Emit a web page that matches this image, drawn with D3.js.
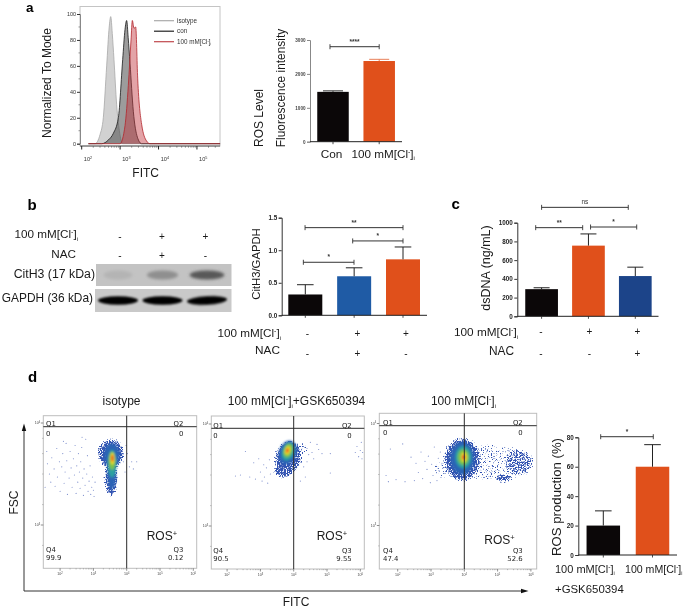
<!DOCTYPE html>
<html><head><meta charset="utf-8">
<script src="https://cdn.jsdelivr.net/npm/d3@7"></script>
<style>html,body{margin:0;background:#fff}svg{display:block;font-family:"Liberation Sans",Arial,sans-serif;filter:blur(.35px)}</style>
</head><body><svg id="c" width="685" height="608"></svg>
<script>
// ---------- data ----------
const histIsotype = [[150,0],[222,0],[300,7],[365,20],[447,60],[520,90],[570,98],[625,85],[692,65],[813,30],[955,10],[1167,0],[400000,0]];
const histCon = [[150,0],[331,0],[500,3],[667,8],[900,20],[1167,65],[1340,88],[1480,95],[1620,82],[1811,62],[2208,25],[2818,5],[3630,0],[400000,0]];
const histCl = [[150,0],[993,0],[1343,14],[1637,45],[1923,80],[2080,95],[2300,89],[2547,90],[2870,50],[3630,15],[4900,2],[6000,0],[400000,0]];
const histNames = ["isotype","con","100 mM[Cl-]i"];

const aLabels = ["Con","100 mM[Cl-]i"], aValues = [1470,2380], aErrors = [1500,2430];
const bValues = [0.32,0.60,0.86], bErrors = [0.47,0.73,1.05];
const cValues = [290,755,430], cErrors = [305,880,525];
const dValues = [20,60], dErrors = [30,75];
const aSig = [[-0.065,1,2802,"****"]];
const bSig = [[-0.04,0.997,0.815,"*"],[0.97,2,1.143,"*"],[-0.005,2,1.347,"**"]];
const cSig = [[0,1.85,1164,"ns"],[-0.126,0.877,947,"**"],[1.045,2.03,954,"*"]];
const dSig = [[-0.053,1.016,80.4,"*"]];
const blotCit = [0.05,0.25,0.55], blotGapdh = [1,1,1];
const signsCl = ["-","+","+"], signsNacB = ["-","+","-"];
const signsClC = ["-","+","+"], signsNacC = ["-","-","+"];

// flow plots: x, y in log10 units; ellipses are [x, y, rx, ry, tilt, density level]
const flowTitles = ["isotype","100 mM[Cl-]i+GSK650394","100 mM[Cl-]i"];
const flowQ = [["0","0","99.9","0.12"],["0","0","90.5","9.55"],["0","0","47.4","52.6"]];
const blobs1 = [[3.53,3.70,.42,.15,0,0],[3.53,3.47,.22,.20,0,0],[3.55,3.68,.24,.12,0,1],[3.55,3.50,.13,.15,0,1],[3.56,3.60,.13,.135,0,2],[3.56,3.63,.10,.09,0,3],[3.57,3.65,.065,.059,0,4],[3.57,3.655,.035,.033,0,5]];
const blobs2 = [[3.84,3.67,.42,.17,18,0],[3.69,3.54,.32,.07,0,0],[4.24,3.75,.28,.08,0,6],[3.82,3.72,.26,.12,18,1],[3.83,3.73,.18,.09,18,2],[3.83,3.74,.13,.069,18,3],[3.82,3.74,.08,.042,18,4],[3.81,3.74,.04,.023,18,5]];
const blobs3 = [[4.72,3.62,1.3,.19,0,6],[3.5,3.55,.5,.09,0,6],[5.7,3.62,.45,.14,0,6],[5.17,3.465,.3,.05,0,0],[3.94,3.645,.58,.22,0,0],[3.94,3.66,.36,.16,0,1],[3.97,3.67,.24,.11,0,2],[3.97,3.67,.17,.078,0,3],[3.99,3.67,.09,.046,0,4],[3.98,3.67,.05,.026,0,5]];
const dots1 = [[1.62,3.60],[1.68,3.50],[1.72,3.42],[1.75,3.66],[1.82,3.55],[1.85,3.38],[1.9,3.75],[1.92,3.47],[1.98,3.62],[2.0,3.33],[2.05,3.57],[2.08,3.70],[2.12,3.41],[2.15,3.52],[2.18,3.80],[2.2,3.63],[2.22,3.30],[2.27,3.46],[2.3,3.72],[2.33,3.56],[2.36,3.37],[2.4,3.65],[2.43,3.49],[2.45,3.78],[2.48,3.31],[2.5,3.58],[2.53,3.42],[2.55,3.70],[2.58,3.52],[2.6,3.36],[2.62,3.62],[2.66,3.86],[2.68,3.46],[2.7,3.29],[2.72,3.55],[2.75,3.39],[2.77,3.84],[2.8,3.50],[2.82,3.68],[2.84,3.33],[2.87,3.43],[2.9,3.58],[2.92,3.30],[2.95,3.37],[2.97,3.47],[3.0,3.34],[3.02,3.28],[3.05,3.42],[1.55,3.37],[1.6,3.72],[2.1,3.82],[2.65,3.76],[3.9,3.62],[3.95,3.52],[4.02,3.70],[4.08,3.57],[4.15,3.62],[4.2,3.55],[4.3,3.62],[3.98,3.78]];
const dots2 = [[2.25,3.49],[2.4,3.50],[2.55,3.73],[2.68,3.48],[2.8,3.62],[2.85,3.46],[2.95,3.66],[3.0,3.53],[3.05,3.44],[3.1,3.60],[3.12,3.48],[3.18,3.57],[3.22,3.42],[3.27,3.65],[3.3,3.51],[4.4,3.76],[4.45,3.70],[4.5,3.82],[4.55,3.72],[4.6,3.66],[4.7,3.80],[4.75,3.75],[4.85,3.71],[5.1,3.52],[5.1,3.71],[5.85,3.72],[5.9,3.78],[5.95,3.68],[6.0,3.74],[6.03,3.82],[6.05,3.66],[6.07,3.72],[4.3,3.58],[4.35,3.48],[4.4,3.63],[4.2,3.44]];
const dots3 = [[1.65,3.49],[1.72,3.43],[1.78,3.75],[1.95,3.45],[2.15,3.80],[2.22,3.43],[2.4,3.67],[2.5,3.44],[2.55,3.61],[2.62,3.52],[2.7,3.72],[2.75,3.46],[2.82,3.63],[2.88,3.55],[2.92,3.68],[2.98,3.42],[3.02,3.60],[3.06,3.49],[3.1,3.77],[3.15,3.58],[3.18,3.44],[3.22,3.66],[3.25,3.53],[3.28,3.72],[3.3,3.47],[3.33,3.61],[3.35,3.56]];

// ---------- helpers ----------
const svg = d3.select("#c");
const FF = '"Liberation Sans",Arial,sans-serif';
const DJ = '"DejaVu Sans",sans-serif';
const defs = svg.append("defs");
const speck = defs.append("filter").attr("id","speck").attr("filterUnits","userSpaceOnUse")
  .attr("x",0).attr("y",0).attr("width",685).attr("height",608).attr("color-interpolation-filters","sRGB");
speck.append("feGaussianBlur").attr("in","SourceAlpha").attr("stdDeviation",2.2).attr("result","b");
speck.append("feTurbulence").attr("type","fractalNoise").attr("baseFrequency",0.8).attr("numOctaves",1).attr("seed",4);
speck.append("feColorMatrix").attr("type","matrix").attr("values","0 0 0 0 0 0 0 0 0 0 0 0 0 0 0 0 0 0 1 0").attr("result","n");
speck.append("feComposite").attr("in","b").attr("in2","n").attr("operator","arithmetic").attr("k1",0).attr("k2",0.55).attr("k3",1).attr("k4",-0.9);
speck.append("feColorMatrix").attr("type","matrix").attr("values","0 0 0 0 0.20 0 0 0 0 0.33 0 0 0 0 0.70 0 0 0 9 0");
[["soft",0.9],["band",1.6],["fine",0.3]].forEach(([id,s])=>defs.append("filter").attr("id",id).attr("x","-30%").attr("y","-60%").attr("width","160%").attr("height","220%").append("feGaussianBlur").attr("stdDeviation",s));

function label(g,str,x,y,size,anchor,opts={}){
  const t=g.append("text").attr("x",x).attr("y",y).attr("font-size",size).attr("text-anchor",anchor||"start").attr("fill",opts.fill||"#1a1a1a").attr("font-family",opts.family||FF);
  if(opts.weight) t.attr("font-weight",opts.weight);
  if(opts.rot!=null) t.attr("transform",`rotate(${opts.rot} ${x} ${y})`);
  const m=str.match(/^(.*\[Cl)-\]i(.*)$/);
  if(!m){t.text(str);return t;}
  t.append("tspan").text(m[1]);
  t.append("tspan").attr("dy",-size*0.33).attr("font-size",size*0.6).text("-");
  t.append("tspan").attr("dy",size*0.33).text("]");
  t.append("tspan").attr("dy",size*0.22).attr("font-size",size*0.5).text("i");
  if(m[2]) t.append("tspan").attr("dy",-size*0.22).text(m[2]);
  return t;
}
function barChart(o){
  const g=svg.append("g");
  const y=d3.scaleLinear().domain([0,o.max]).range([o.y0,o.yTop]);
  const x=d3.scaleLinear().domain([0,o.values.length-1]).range([o.c0,o.c1]);
  g.selectAll("rect.bar").data(o.values).join("rect").attr("class","bar")
    .attr("x",(d,i)=>x(i)-o.bw/2).attr("width",o.bw).attr("y",d=>y(d)).attr("height",d=>o.y0-y(d))
    .attr("fill",(d,i)=>o.colors[i]);
  o.errors.forEach((e,i)=>{
    g.append("line").attr("x1",x(i)).attr("x2",x(i)).attr("y1",y(o.values[i])).attr("y2",y(e)).attr("stroke",o.errColor?o.errColor[i]:"#222").attr("stroke-width",o.errW||1);
    g.append("line").attr("x1",x(i)-o.cap).attr("x2",x(i)+o.cap).attr("y1",y(e)).attr("y2",y(e)).attr("stroke",o.errColor?o.errColor[i]:"#222").attr("stroke-width",1);
  });
  const ax=g.append("g").attr("transform",`translate(${o.ax},0)`).call(d3.axisLeft(y).tickValues(o.ticks).tickSize(3).tickPadding(1.5).tickFormat(o.fmt||d3.format("d")));
  ax.selectAll("text").attr("font-size",o.tickSize||6.3).attr("font-weight","bold").attr("font-family",FF).attr("fill",o.tickColor||"#222");
  ax.selectAll("line,path").attr("stroke",o.axisColor||"#333").attr("stroke-width",1);
  g.append("line").attr("x1",o.ax).attr("x2",o.xEnd).attr("y1",o.y0).attr("y2",o.y0).attr("stroke","#222").attr("stroke-width",1);
  o.values.forEach((d,i)=>g.append("line").attr("x1",x(i)).attr("x2",x(i)).attr("y1",o.y0).attr("y2",o.y0+2.5).attr("stroke","#222").attr("stroke-width",.8));
  o.sig.forEach(([a,b,v,s])=>{
    const yy=y(v);
    g.append("line").attr("x1",x(a)).attr("x2",x(b)).attr("y1",yy).attr("y2",yy).attr("stroke","#333").attr("stroke-width",1);
    [a,b].forEach(k=>g.append("line").attr("x1",x(k)).attr("x2",x(k)).attr("y1",yy-2.5).attr("y2",yy+2.5).attr("stroke","#333").attr("stroke-width",.9));
    label(g,s,(x(a)+x(b))/2,yy-3,6.5,"middle",{weight:s==="ns"?null:"bold",fill:"#333"});
  });
  return {g,x,y};
}

// ---------- panel letters ----------
[["a",26,12.3],["b",27.5,210],["c",451.5,209],["d",28,382]].forEach(([s,x,y],i)=>label(svg,s,x,y,i?15:13.5,"start",{weight:"bold",fill:"#000"}));

// ---------- a: histogram ----------
(function(){
  const g=svg.append("g");
  const x=d3.scaleLog().domain([100,Math.pow(10,5.6)]).range([81.7,220]);
  const y=d3.scaleLinear().domain([0,100]).range([143.7,14]);
  const area=d3.area().x(d=>x(d[0])).y0(y(0)).y1(d=>y(d[1])).curve(d3.curveMonotoneX);
  const line=d3.line().x(d=>x(d[0])).y(d=>y(d[1])).curve(d3.curveMonotoneX);
  g.append("rect").attr("x",80).attr("y",6.5).attr("width",140).attr("height",139.5).attr("fill","#fff").attr("stroke","#c4c4c4").attr("stroke-width",1);
  const styles=[["#c9c9c9",.85,"#a8a8a8"],["#4a4a4a",.55,"#1b1b1b"],["#c2343c",.45,"#b3262c"]];
  [histIsotype,histCon,histCl].forEach((h,i)=>{
    g.append("path").datum(h.filter(d=>d[0]<1e5)).attr("d",area).attr("fill",styles[i][0]).attr("fill-opacity",styles[i][1]);
    g.append("path").datum(h).attr("d",line).attr("fill","none").attr("stroke",styles[i][2]).attr("stroke-width",.8);
  });
  const ay=g.append("g").attr("transform","translate(80,0)").call(d3.axisLeft(y).tickValues(d3.range(0,101,20)).tickSize(3).tickPadding(1));
  ay.selectAll("text").attr("font-size",5.4).attr("font-family",FF).attr("fill","#333");
  ay.selectAll("line").attr("stroke","#333");
  ay.select("path").attr("stroke","#888");
  g.selectAll("line.my").data(d3.range(10,100,20)).join("line").attr("class","my").attr("x1",78.5).attr("x2",80).attr("y1",d=>y(d)).attr("y2",d=>y(d)).attr("stroke","#555").attr("stroke-width",.6);
  g.append("line").attr("x1",80).attr("x2",220).attr("y1",146).attr("y2",146).attr("stroke","#333").attr("stroke-width",.8);
  const dec=[1e2,1e3,1e4,1e5];
  dec.forEach((d,i)=>{
    g.append("line").attr("x1",x(d)).attr("x2",x(d)).attr("y1",146).attr("y2",149.5).attr("stroke","#222").attr("stroke-width",1);
    for(let k=2;k<10;k++){const v=d*k;if(v<Math.pow(10,5.6))g.append("line").attr("x1",x(v)).attr("x2",x(v)).attr("y1",146).attr("y2",147.8).attr("stroke","#444").attr("stroke-width",.5);}
    const t=g.append("text").attr("x",x(d)+6.3).attr("y",161).attr("font-size",5.6).attr("text-anchor","middle").attr("fill","#333").attr("font-family",FF);
    t.append("tspan").text("10");
    t.append("tspan").attr("dy",-2.2).attr("font-size",3.8).text(2+i);
  });
  histNames.forEach((n,i)=>{
    const yy=[20.7,31.2,41.7][i];
    g.append("line").attr("x1",154).attr("x2",174).attr("y1",yy).attr("y2",yy).attr("stroke",["#aaa","#222","#c0484c"][i]).attr("stroke-width",1.2);
    label(g,n,177,yy+2,6.3,"start",{fill:"#333"});
  });
  label(g,"Normalized To Mode",50.5,83,12,"middle",{rot:-90});
  label(g,"FITC",145.7,176.5,12,"middle");
})();

// ---------- a: bars ----------
barChart({values:aValues,errors:aErrors,max:3000,y0:141.7,yTop:40,c0:333,c1:379.2,bw:31.5,cap:10,ax:310,xEnd:402,
  colors:["#0b0708","#e0501b"],errColor:["#333","#e8805a"],ticks:[0,1000,2000,3000],sig:aSig,tickSize:4.6,tickColor:"#444",axisColor:"#888"});
label(svg,"ROS Level",262.5,118,12,"middle",{rot:-90});
label(svg,"Fluorescence intensity",284.5,88,11.9,"middle",{rot:-90});
label(svg,aLabels[0],331.5,157.5,11.8,"middle");
label(svg,aLabels[1],351.5,157.5,11.7,"start");

// ---------- b: blot ----------
(function(){
  const g=svg.append("g");
  const lane=d3.scalePoint().domain([0,1,2]).range([118,207]);
  const shade=d3.scaleLinear().domain([0,1]).range(["#bdbdbd","#050505"]);
  [[96,264,135.7,22,"#c3c3c3",blotCit,9,275],[95,289,136.7,23,"#c9c9c9",blotGapdh,5,300.5]].forEach(([x0,y0,w,h,bg,vals,bh,cy])=>{
    const cid="clip"+y0;
    g.append("clipPath").attr("id",cid).append("rect").attr("x",x0).attr("y",y0).attr("width",w).attr("height",h);
    const inner=g.append("g").attr("clip-path",`url(#${cid})`);
    inner.append("rect").attr("x",x0).attr("y",y0).attr("width",w).attr("height",h).attr("fill",bg);
    vals.forEach((v,i)=>inner.append("ellipse").attr("cx",lane(i)).attr("cy",cy).attr("rx",vals===blotGapdh?20:(14+v*6)).attr("ry",bh/(vals===blotGapdh?1.2:2))
      .attr("fill",shade(v)).attr("filter",vals===blotGapdh?"url(#soft)":"url(#band)")
      .attr("transform",vals===blotGapdh&&i===2?`rotate(-3 ${lane(i)} ${cy})`:null));
  });
  signsCl.forEach((s,i)=>label(g,s,[120,162,205.5][i],240,10,"middle"));
  signsNacB.forEach((s,i)=>label(g,s,[120,162,205.5][i],259,10,"middle"));
  label(g,"100 mM[Cl-]i",78,238,11.7,"end");
  label(g,"NAC",76,258,11.7,"end");
  label(g,"CitH3 (17 kDa)",95,278,12.3,"end");
  label(g,"GAPDH (36 kDa)",93,302,11.9,"end");
})();

// ---------- b: bars ----------
barChart({values:bValues,errors:bErrors,max:1.5,y0:315.3,yTop:217.7,c0:305.3,c1:403,bw:34,cap:8.3,ax:281.7,xEnd:427,
  colors:["#0b0708","#1f5ba5","#e0501b"],ticks:[0,.5,1,1.5],fmt:d3.format(".1f"),sig:bSig});
label(svg,"CitH3/GAPDH",260,264,11.3,"middle",{rot:-90});
label(svg,"100 mM[Cl-]i",281,337,11.7,"end");
label(svg,"NAC",280,354,11.8,"end");
signsCl.forEach((s,i)=>label(svg,s,[307.5,357.5,406][i],337,10,"middle"));
signsNacB.forEach((s,i)=>label(svg,s,[307.5,357.5,406][i],357,10,"middle"));

// ---------- c: bars ----------
barChart({values:cValues,errors:cErrors,max:1000,y0:316.3,yTop:222.7,c0:541.6,c1:635.3,bw:32.7,cap:8,ax:517.3,xEnd:658.5,
  colors:["#0b0708","#e0501b","#1c4489"],ticks:[0,200,400,600,800,1000],sig:cSig});
label(svg,"dsDNA (ng/mL)",489.5,268,12.5,"middle",{rot:-90});
label(svg,"100 mM[Cl-]i",518,336,11.8,"end");
label(svg,"NAC",514,355,11.9,"end");
signsClC.forEach((s,i)=>label(svg,s,[541,589.5,637.5][i],335,10,"middle"));
signsNacC.forEach((s,i)=>label(svg,s,[541,589.5,637.5][i],357,10,"middle"));

// ---------- d: flow plots ----------
const flowLevels=["#3354b3","#2b63b5","#2aa0a0","#7cc24a","#e9dc2a","#ee4a22"];
function flowPlot(i,left,right,top,bottom,vx,hy,tickY,blobs,dots,titleX,qLeft,qRight,rosX,rosY){
  const g=svg.append("g");
  const perDecade=33.3;
  const x=d3.scaleLinear().domain([4-(vx-left)/perDecade,4+(right-vx)/perDecade]).range([left,right]);
  const y=d3.scaleLinear().domain([4-(bottom-tickY)/102,4+(tickY-top)/102]).range([bottom,top]);
  g.append("rect").attr("x",left).attr("y",top).attr("width",right-left).attr("height",bottom-top).attr("fill","#fff").attr("stroke","#bdbdbd").attr("stroke-width",1);
  const cid="fclip"+i;
  g.append("clipPath").attr("id",cid).append("rect").attr("x",left).attr("y",top).attr("width",right-left).attr("height",bottom-top);
  const body=g.append("g").attr("clip-path",`url(#${cid})`);
  const el=(sel,data)=>sel.selectAll("ellipse").data(data).join("ellipse")
    .attr("cx",d=>x(d[0])).attr("cy",d=>y(d[1])).attr("rx",d=>x(d[0]+d[2])-x(d[0])).attr("ry",d=>y(d[1])-y(d[1]+d[3]))
    .attr("transform",d=>`rotate(${d[4]} ${x(d[0])} ${y(d[1])})`);
  el(body.append("g").attr("filter","url(#speck)").attr("class","sparse"),blobs.filter(d=>d[5]===6)).attr("fill-opacity",.6);
  el(body.append("g").attr("filter","url(#speck)").attr("class","speck"),blobs.filter(d=>d[5]===0)).attr("fill-opacity",1);
  body.selectAll("circle").data(dots).join("circle").attr("cx",d=>x(d[0])).attr("cy",d=>y(d[1])).attr("r",.55).attr("fill","#4a62b8").attr("fill-opacity",.75);
  el(body.append("g").attr("filter","url(#soft)"),blobs.filter(d=>d[5]>0&&d[5]<6)).attr("fill",d=>flowLevels[d[5]]);
  // quadrant gates
  g.append("line").attr("x1",left).attr("x2",right).attr("y1",hy).attr("y2",hy).attr("stroke","#2a2a2a").attr("stroke-width",1);
  g.append("line").attr("x1",vx).attr("x2",vx).attr("y1",top).attr("y2",bottom).attr("stroke","#2a2a2a").attr("stroke-width",1);
  // axes
  [2,3,4,5,6].forEach(d=>{
    g.append("line").attr("x1",x(d)).attr("x2",x(d)).attr("y1",bottom).attr("y2",bottom+2.5).attr("stroke","#444").attr("stroke-width",.6);
    [.3,.48,.6,.7,.78,.85,.9,.95].forEach(m=>{if(d+m<x.domain()[1])g.append("line").attr("x1",x(d+m)).attr("x2",x(d+m)).attr("y1",bottom).attr("y2",bottom+1.2).attr("stroke","#666").attr("stroke-width",.4);});
    const t=g.append("text").attr("x",x(d)).attr("y",bottom+7).attr("font-size",3.6).attr("text-anchor","middle").attr("fill","#444").attr("font-family",FF);
    t.append("tspan").text("10");t.append("tspan").attr("dy",-1.2).attr("font-size",2.6).text(d);
  });
  [4,3].forEach((d,k)=>{
    g.append("line").attr("x1",left-2.5).attr("x2",left).attr("y1",y(d)).attr("y2",y(d)).attr("stroke","#444").attr("stroke-width",.6);
    const t=g.append("text").attr("x",left-3).attr("y",y(d)+1).attr("font-size",3.6).attr("text-anchor","end").attr("fill","#444").attr("font-family",FF);
    t.append("tspan").text("10");t.append("tspan").attr("dy",-1.2).attr("font-size",2.6).text(d);
  });
  [3.5,3.7,3.85,3.2,2.8].forEach(d=>g.append("line").attr("x1",left-1.2).attr("x2",left).attr("y1",y(d)).attr("y2",y(d)).attr("stroke","#666").attr("stroke-width",.4));
  // quadrant text
  const q=flowQ[i];
  const qs=6.9,qf={fill:"#222",family:DJ};
  const ql=left+qLeft, qr=right-qRight;
  label(g,"Q1",ql,hy-.5,qs,"start",qf);label(g,q[0],ql,hy+9.5,qs,"start",qf);
  label(g,"Q2",qr,hy-.5,qs,"end",qf);label(g,q[1],qr,hy+9.5,qs,"end",qf);
  label(g,"Q4",ql,bottom-16.5,qs,"start",qf);label(g,q[2],ql,bottom-8,qs,"start",qf);
  label(g,"Q3",qr,bottom-16.5,qs,"end",qf);label(g,q[3],qr,bottom-8,qs,"end",qf);
  const t=label(g,"ROS",rosX,rosY,12,"start");
  t.append("tspan").attr("dy",-4).attr("font-size",7.5).text("+");
  label(g,flowTitles[i],titleX,405,12,"middle");
}
flowPlot(0,43.3,196.7,415.7,568.3,126.7,426.7,423,blobs1,dots1,121.5,2.7,13.4,146.7,540);
flowPlot(1,211.3,364.3,416,569,293.7,428.3,424,blobs2,dots2,296.5,2,12.6,316.7,540);
flowPlot(2,379.3,536.7,413.3,569,464.3,425.7,423.5,blobs3,dots3,463.5,3.7,14,484.3,544);

// flow axis arrows
(function(){
  const g=svg.append("g");
  g.append("line").attr("x1",24).attr("x2",24).attr("y1",591).attr("y2",428).attr("stroke","#333").attr("stroke-width",1);
  g.append("path").attr("d","M24,423.5L21.8,431L26.2,431Z").attr("fill","#111");
  g.append("line").attr("x1",24).attr("x2",523).attr("y1",591).attr("y2",591).attr("stroke","#333").attr("stroke-width",1);
  g.append("path").attr("d","M528.5,591L521,588.8L521,593.2Z").attr("fill","#111");
  label(g,"FSC",18,502.5,12,"middle",{rot:-90});
  label(g,"FITC",296,606,12,"middle");
})();

// ---------- d: bars ----------
barChart({values:dValues,errors:dErrors,max:80,y0:555,yTop:437.3,c0:603.3,c1:652.5,bw:33.5,cap:8.3,ax:578.3,xEnd:677,
  colors:["#0b0708","#e0501b"],ticks:[0,20,40,60,80],sig:dSig});
label(svg,"ROS production (%)",560.5,497,13.2,"middle",{rot:-90});
label(svg,"100 mM[Cl-]i",555,572.5,11,"start");
label(svg,"100 mM[Cl-]i",625,572.5,10.6,"start");
label(svg,"+GSK650394",555,593,11.4,"start");
</script></body></html>
